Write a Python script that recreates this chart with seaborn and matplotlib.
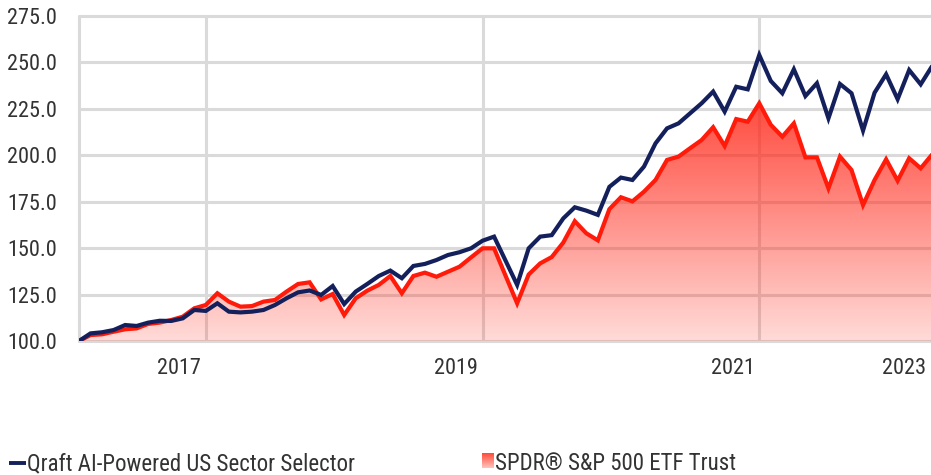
import numpy as np
import matplotlib
matplotlib.use("Agg")
import matplotlib.pyplot as plt
import seaborn as sns
from matplotlib import font_manager
from matplotlib.colors import LinearSegmentedColormap
from matplotlib.lines import Line2D

# Growth of 100, monthly
qraft_values = [
    100.0, 104.1, 104.7, 105.9, 108.6, 108.1, 109.9, 110.9, 110.8, 112.2,
    116.7, 116.2, 120.3, 115.8, 115.4, 115.8, 116.7, 119.4, 123.0, 126.2,
    127.2, 124.8, 129.6, 119.9, 126.6, 130.7, 135.0, 137.9, 133.8, 140.4,
    141.5, 143.6, 146.3, 147.8, 149.9, 154.0, 156.2, 143.2, 130.2, 149.9,
    156.2, 157.0, 166.0, 172.0, 170.2, 167.9, 183.0, 188.0, 186.7, 193.9,
    206.4, 214.5, 217.2, 222.6, 228.0, 234.3, 223.5, 236.9, 235.5, 254.0,
    240.0, 233.4, 246.3, 231.9, 238.8, 219.9, 238.4, 233.4, 213.3, 233.7,
    243.6, 230.2, 245.9, 238.2, 248.1,
]
spy_values = [
    100.0, 103.2, 103.6, 105.0, 106.3, 106.8, 109.2, 109.9, 111.3, 113.1,
    117.6, 119.4, 125.7, 121.2, 118.5, 118.8, 121.2, 122.1, 126.6, 130.7,
    131.6, 122.4, 125.3, 114.0, 123.0, 127.1, 130.2, 135.0, 125.7, 135.0,
    136.8, 134.6, 137.3, 140.0, 145.0, 149.9, 149.9, 135.1, 120.3, 135.8,
    141.8, 145.2, 153.0, 164.5, 158.0, 154.2, 171.0, 177.4, 175.2, 180.4,
    186.7, 197.5, 199.3, 203.8, 208.2, 215.1, 205.0, 219.5, 218.1, 228.0,
    216.4, 210.0, 217.2, 198.9, 198.9, 182.2, 199.3, 192.1, 173.2, 186.7,
    197.8, 186.3, 198.4, 193.0, 200.5,
]
series_names = ["Qraft AI-Powered US Sector Selector", "SPDR® S&P 500 ETF Trust"]
year_labels = ["2017", "2019", "2021", "2023"]
y_ticks = [100, 125, 150, 175, 200, 225, 250, 275]

months = np.arange(len(qraft_values))
year_grid = [0, 11, 35, 59]              # month index of the vertical grid lines
year_label_pos = [8.7, 32.7, 56.7, 71.6]  # month index where year labels sit

NAVY = "#14205c"
RED = "#ff1a0a"
GRID = "#dadada"
TEXT = "#333333"

sns.set_style("white")

# prefer a narrow sans face when one is available
installed = {f.name for f in font_manager.fontManager.ttflist}
narrow = next((f for f in ["Liberation Sans Narrow", "Roboto Condensed",
                           "Arial Narrow"] if f in installed), None)
if narrow:
    plt.rcParams["font.family"] = [narrow, "DejaVu Sans"]
    tick_size, legend_size = 16, 16.5
else:
    plt.rcParams["font.family"] = ["Roboto", "DejaVu Sans"]
    tick_size, legend_size = 14, 15

W, H = 931, 475
fig = plt.figure(figsize=(W / 100, H / 100), dpi=100)
x0_px, x_step = 79, 11.53
top_px, bot_px = 16, 341
n = len(months) - 1
ax = fig.add_axes([x0_px / W, (H - bot_px) / H, n * x_step / W, (bot_px - top_px) / H])

# gradient fill under the S&P line
poly = ax.fill_between(months, spy_values, 100, color="none", lw=0)
cmap = LinearSegmentedColormap.from_list(
    "spy_fade", [(1.0, 0.16, 0.10, 0.17), (1.0, 0.16, 0.10, 0.84)])
grad = np.linspace(0, 1, 256).reshape(-1, 1)
im = ax.imshow(grad, extent=[0, n, 100, max(spy_values)], origin="lower",
               aspect="auto", cmap=cmap, zorder=1.5, interpolation="bicubic")
im.set_clip_path(poly.get_paths()[0], transform=ax.transData)

sns.lineplot(x=months, y=spy_values, ax=ax, color=RED, lw=3.0, zorder=3,
             legend=False, solid_joinstyle="miter")
sns.lineplot(x=months, y=qraft_values, ax=ax, color=NAVY, lw=3.0, zorder=4,
             legend=False, solid_joinstyle="miter")

ax.set_xlim(0, n)
ax.set_ylim(100, 275)
ax.set_xlabel("")
ax.set_ylabel("")
for s in ax.spines.values():
    s.set_visible(False)

ax.set_yticks(y_ticks)
ax.set_yticklabels([f"{v:.1f}" for v in y_ticks])
ax.set_xticks(year_grid)
ax.set_xticklabels([""] * len(year_grid))
ax.set_xticks(year_label_pos, minor=True)
ax.set_xticklabels(year_labels, minor=True)

ax.grid(True, which="major", color=GRID, lw=2.2)
ax.set_axisbelow(True)
for gl in ax.get_xgridlines() + ax.get_ygridlines():
    gl.set_clip_on(False)

ax.tick_params(axis="y", which="major", length=12.2, width=2.2, color=GRID,
               labelsize=tick_size, labelcolor=TEXT, pad=3.5)
ax.tick_params(axis="x", which="major", length=12.2, width=2.2, color=GRID)
ax.tick_params(axis="x", which="minor", length=0, labelsize=tick_size,
               labelcolor=TEXT, pad=12.5)

# legend row along the bottom
fig.add_artist(Line2D([9 / W, 26 / W], [(H - 462.5) / H] * 2, color=NAVY,
                      lw=2.8, solid_capstyle="butt"))
fig.text(27 / W, (H - 470) / H, series_names[0], fontsize=legend_size,
         color=TEXT, va="baseline", ha="left")
sq = fig.add_axes([482 / W, (H - 468) / H, 12 / W, 15 / H])
sq.imshow(np.linspace(1, 0, 64).reshape(-1, 1), aspect="auto",
          cmap=LinearSegmentedColormap.from_list("sq", ["#ffc4bd", "#ff4a3a"]))
sq.axis("off")
fig.text(495 / W, (H - 470) / H, series_names[1], fontsize=legend_size,
         color=TEXT, va="baseline", ha="left")

fig.savefig("out.png", dpi=100)
